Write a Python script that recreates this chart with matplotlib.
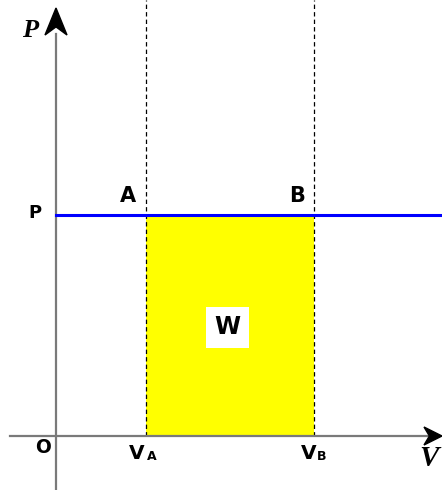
import matplotlib
matplotlib.use("Agg")
import matplotlib.pyplot as plt
from matplotlib.patches import Polygon

# schematic P-V diagram, units are arbitrary (about one pixel each)
v_a = 90
v_b = 258
p = 221
x_end = 386
y_end = 428

work_label = "W"
point_labels = ["A", "B"]

fig = plt.figure(figsize=(4.42, 4.90), dpi=100)
ax = fig.add_axes([0, 0, 1, 1])
ax.set_xlim(-56, 386)
ax.set_ylim(-54, 436)
ax.axis("off")

sans = "DejaVu Sans"
serif = "Liberation Serif"

# work area
ax.fill_between([v_a, v_b], 0, p, color="#ffff00", lw=0, zorder=1)

# axes lines
ax.plot([-46, x_end - 14], [0, 0], color="#7a7a7a", lw=1.6, zorder=3)
ax.plot([0, 0], [-54, y_end - 26], color="#7a7a7a", lw=1.6, zorder=3)

# arrow heads (stealth shape)
def head(tip, direction, length, half_w):
    tx, ty = tip
    dx, dy = direction
    nx, ny = -dy, dx
    bx, by = tx - dx * length, ty - dy * length
    pts = [(tx, ty),
           (bx + nx * half_w, by + ny * half_w),
           (tx - dx * length * 0.7, ty - dy * length * 0.7),
           (bx - nx * half_w, by - ny * half_w)]
    ax.add_patch(Polygon(pts, closed=True, color="black", zorder=4))

head((x_end, 0), (1, 0), 18, 9)
head((0, y_end), (0, 1), 27, 11)

# dashed lines at V_A and V_B
for v in [v_a, v_b]:
    ax.plot([v, v], [0, 436], color="black", lw=0.9, ls=(0, (3.5, 2.5)), zorder=2)

# constant pressure line
ax.plot([0, x_end], [p, p], color="#0000ff", lw=2.2, zorder=3)

# labels
ax.text(v_a - 18, p + 19, point_labels[0], fontsize=15, fontweight="bold",
        family=sans, ha="center", va="center")
ax.text(v_b - 17, p + 19, point_labels[1], fontsize=15, fontweight="bold",
        family=sans, ha="center", va="center")
ax.text(-21, p + 2, "P", fontsize=13, fontweight="bold", family=sans,
        ha="center", va="center")
ax.text(-13, -11, "O", fontsize=13.5, fontweight="bold", family=sans,
        ha="center", va="center")

ax.text(v_a - 9, -17, "V", fontsize=14.5, fontweight="bold", family=sans,
        ha="center", va="center")
ax.text(v_a + 5.5, -20, "A", fontsize=9, fontweight="bold", family=sans,
        ha="center", va="center")
ax.text(v_b - 5, -17, "V", fontsize=14.5, fontweight="bold", family=sans,
        ha="center", va="center")
ax.text(v_b + 8, -20, "B", fontsize=9, fontweight="bold", family=sans,
        ha="center", va="center")

ax.text(-26, 405, "P", fontsize=19, fontstyle="italic", fontweight="bold",
        family=serif, ha="center", va="center")
ax.text(373, -22, "V", fontsize=21, fontstyle="italic", fontweight="bold",
        family=serif, ha="center", va="center")

ax.text((v_a + v_b) / 2 - 2.5, p / 2 - 2, work_label, fontsize=17,
        fontweight="bold", family=sans, ha="center", va="center", zorder=5,
        bbox=dict(boxstyle="square,pad=0.35", fc="white", ec="none"))

fig.savefig("out.png", dpi=100)
